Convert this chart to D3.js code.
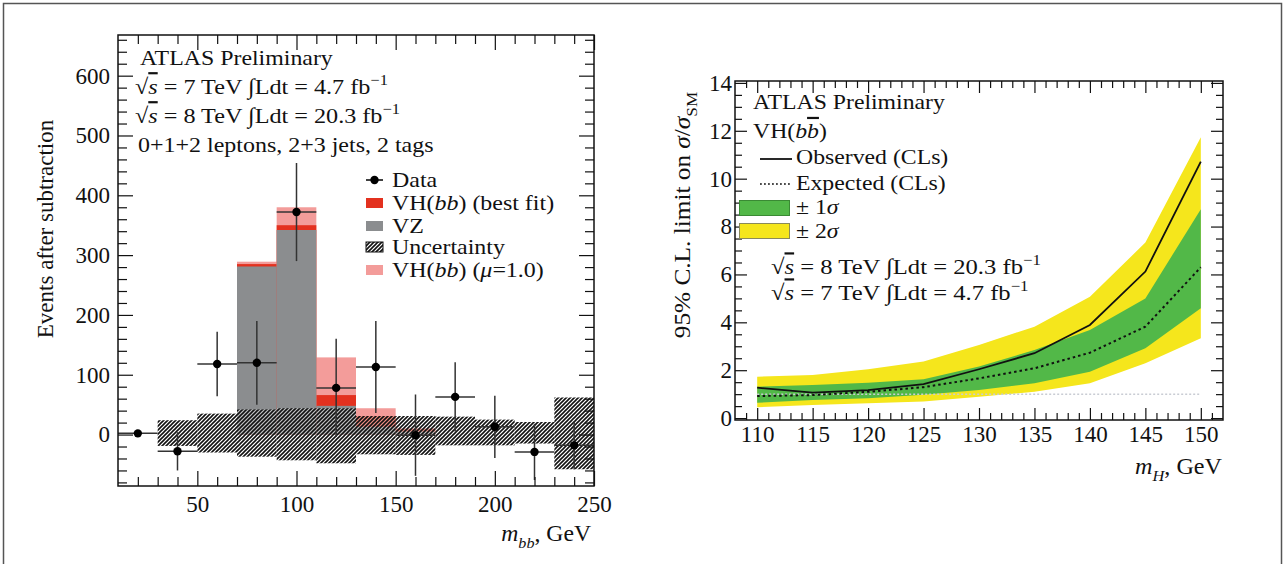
<!DOCTYPE html>
<html lang="en">
<head>
<meta charset="UTF-8" />
<title>ATLAS VH(bb) results</title>
<style>
  body { margin: 0; background: #fff; }
  svg { display: block; font-family: "Liberation Serif", "Times New Roman", serif; }
  .tick text { font-family: "Liberation Serif", "Times New Roman", serif; font-size: 23px; fill: #111; }
  .tick line { stroke: #111; stroke-width: 1.2px; }
</style>
<script src="https://d3js.org/d3.v7.min.js"></script>
</head>
<body>
<svg id="fig"></svg>
<script>
// ---- left panel: m_bb after background subtraction ----
const binCenters = [20, 40, 60, 80, 100, 120, 140, 160, 180, 200, 220, 240];
const dataValues = [2, -28, 118, 120, 372, 78, 113, -1, 63, 13, -29, -18];
const dataErrors = [5, 32, 54, 70, 82, 82, 77, 68, 58, 52, 47, 40];
const vzValues = [0, 0, 0, 281, 342, 48, 13, 5, 0, 0, 0, 0];
const vhBestFit = [0, 0, 0, 4, 8, 18, 18, 4, 0, 0, 0, 0];
const vhMuOne = [0, 0, 0, 8, 38, 81, 31, 6, 0, 0, 0, 0];
const uncUp = [0, 24, 35, 42, 44, 44, 31, 31, 30, 25, 21, 62];
const uncDown = [0, -19, -30, -37, -43, -48, -33, -34, -18, -18, -15, -58];
const binWidth = 20;
const leftXTicks = [50, 100, 150, 200, 250];
const leftYTicks = [0, 100, 200, 300, 400, 500, 600];

// ---- right panel: 95% CL limits vs m_H ----
const massPoints = [110, 115, 120, 125, 130, 135, 140, 145, 150];
const observed = [1.27, 1.06, 1.17, 1.42, 2.04, 2.71, 3.89, 6.12, 10.71];
const expected = [0.92, 0.96, 1.10, 1.29, 1.66, 2.08, 2.73, 3.82, 6.30];
const oneSigUp = [1.31, 1.38, 1.48, 1.62, 2.15, 2.84, 3.68, 5.00, 8.72];
const oneSigDown = [0.64, 0.76, 0.83, 0.97, 1.17, 1.45, 1.94, 2.92, 4.59];
const twoSigUp = [1.73, 1.80, 2.04, 2.36, 3.05, 3.82, 5.07, 7.33, 11.73];
const twoSigDown = [0.45, 0.55, 0.62, 0.69, 0.89, 1.10, 1.45, 2.29, 3.33];
const rightXTicks = [110, 115, 120, 125, 130, 135, 140, 145, 150];
const rightYTicks = [0, 2, 4, 6, 8, 10, 12, 14];

const W = 1288, H = 564;
const svg = d3.select("#fig").attr("width", W).attr("height", H);

svg.append("rect").attr("x", 3.5).attr("y", 3.5).attr("width", 1278).attr("height", 580)
  .attr("fill", "none").attr("stroke", "#555").attr("stroke-width", 1.5);

const defs = svg.append("defs");
const hatch = defs.append("pattern").attr("id", "hatch")
  .attr("patternUnits", "userSpaceOnUse").attr("width", 4).attr("height", 4);
hatch.append("rect").attr("width", 4).attr("height", 4).attr("fill", "#fff").attr("fill-opacity", 0.45);
hatch.append("path").attr("d", "M-1,1 l2,-2 M0,4 l4,-4 M3,5 l2,-2")
  .attr("stroke", "#111").attr("stroke-width", 1.6);

// rich text: segments {t, it, sup, sub, over}; sx widens the glyphs like the scan
function rich(g, x, y, segs, size, anchor, sx, rot) {
  const holder = g.append("g")
    .attr("transform", `translate(${x},${y})${rot ? " rotate(" + rot + ")" : ""} scale(${sx || 1},1)`);
  const text = holder.append("text").attr("font-size", size).attr("fill", "#111")
    .attr("text-anchor", anchor || "start");
  let shift = 0;
  segs.forEach(s => {
    const target = s.sup ? -0.42 * size : s.sub ? 0.3 * size : 0;
    const ts = text.append("tspan").text(s.t).attr("dy", target - shift);
    shift = target;
    if (s.it) ts.attr("font-style", "italic");
    if (s.sup || s.sub) ts.attr("font-size", size * 0.68);
    if (s.over) ts.style("text-decoration", "overline");
  });
  return text;
}
const lumi = (e, l) => [
  { t: "√" }, { t: "s", it: true, over: true }, { t: ` = ${e} TeV ∫Ldt = ${l} fb` }, { t: "−1", sup: true }
];

function frame(g, x, y, xMajor, xMinor, yMajor, yMinor, majLen, minLen, xPad, yPad) {
  const [x0, x1] = x.range(), [y0, y1] = y.range();
  const clean = a => a.call(s => s.select(".domain").remove());
  g.append("g").attr("transform", `translate(0,${y0})`)
    .call(d3.axisBottom(x).tickValues(xMajor).tickSize(-majLen).tickSizeOuter(0).tickPadding(xPad)).call(clean);
  g.append("g").attr("transform", `translate(0,${y0})`)
    .call(d3.axisBottom(x).tickValues(xMinor).tickSize(-minLen).tickFormat("")).call(clean);
  g.append("g").attr("transform", `translate(0,${y1})`)
    .call(d3.axisTop(x).tickValues(xMajor).tickSize(-majLen).tickFormat("")).call(clean);
  g.append("g").attr("transform", `translate(0,${y1})`)
    .call(d3.axisTop(x).tickValues(xMinor).tickSize(-minLen).tickFormat("")).call(clean);
  g.append("g").attr("transform", `translate(${x0},0)`)
    .call(d3.axisLeft(y).tickValues(yMajor).tickSize(-majLen).tickSizeOuter(0).tickPadding(yPad)).call(clean);
  g.append("g").attr("transform", `translate(${x0},0)`)
    .call(d3.axisLeft(y).tickValues(yMinor).tickSize(-minLen).tickFormat("")).call(clean);
  g.append("g").attr("transform", `translate(${x1},0)`)
    .call(d3.axisRight(y).tickValues(yMajor).tickSize(-majLen).tickFormat("")).call(clean);
  g.append("g").attr("transform", `translate(${x1},0)`)
    .call(d3.axisRight(y).tickValues(yMinor).tickSize(-minLen).tickFormat("")).call(clean);
  g.append("rect").attr("x", x0).attr("y", y1).attr("width", x1 - x0).attr("height", y0 - y1)
    .attr("fill", "none").attr("stroke", "#111").attr("stroke-width", 1.5);
}

// ================= left panel =================
const xL = d3.scaleLinear().domain([10, 250]).range([118, 594]);
const yL = d3.scaleLinear().domain([-86, 668]).range([486, 35]);
const gL = svg.append("g");
defs.append("clipPath").attr("id", "clipL").append("rect")
  .attr("x", 118).attr("y", 35).attr("width", 476).attr("height", 451);
const plotL = gL.append("g").attr("clip-path", "url(#clipL)");

const bins = binCenters.map((c, i) => ({
  c, vz: vzValues[i], fit: vzValues[i] + vhBestFit[i], mu1: vzValues[i] + vhMuOne[i],
  up: uncUp[i], dn: uncDown[i], d: dataValues[i], e: dataErrors[i]
}));
function bars(key, color) {
  plotL.selectAll(null).data(bins.filter(b => b[key] > 0)).join("rect")
    .attr("x", b => xL(b.c - binWidth / 2)).attr("width", b => xL(b.c + binWidth / 2) - xL(b.c - binWidth / 2))
    .attr("y", b => yL(b[key])).attr("height", b => yL(0) - yL(b[key])).attr("fill", color);
}
bars("mu1", "#f39c9a");
bars("fit", "#e3311f");
bars("vz", "#8b8d8f");
plotL.selectAll(null).data(bins.filter(b => b.up !== b.dn)).join("rect")
  .attr("x", b => xL(b.c - binWidth / 2)).attr("width", b => xL(b.c + binWidth / 2) - xL(b.c - binWidth / 2))
  .attr("y", b => yL(b.up)).attr("height", b => yL(b.dn) - yL(b.up)).attr("fill", "url(#hatch)");

const pts = plotL.append("g");
pts.selectAll(null).data(bins).join("line")
  .attr("x1", b => xL(b.c - binWidth / 2)).attr("x2", b => xL(b.c + binWidth / 2))
  .attr("y1", b => yL(b.d)).attr("y2", b => yL(b.d)).attr("stroke", "#333").attr("stroke-width", 1.5);
pts.selectAll(null).data(bins).join("line")
  .attr("x1", b => xL(b.c)).attr("x2", b => xL(b.c))
  .attr("y1", b => yL(b.d - b.e)).attr("y2", b => yL(b.d + b.e)).attr("stroke", "#333").attr("stroke-width", 1.5);
pts.selectAll(null).data(bins).join("circle")
  .attr("cx", b => xL(b.c)).attr("cy", b => yL(b.d)).attr("r", 4.2).attr("fill", "#000");

frame(gL, xL, yL, leftXTicks, d3.range(20, 250, 10).filter(v => v % 50),
  leftYTicks, d3.range(-80, 668, 20).filter(v => v % 100), 15, 9, 10, 8);

rich(gL, 140, 65, [{ t: "ATLAS Preliminary" }], 22, "start", 1.085);
rich(gL, 135, 94, lumi(7, "4.7"), 22, "start", 1.1);
rich(gL, 135, 123, lumi(8, "20.3"), 22, "start", 1.1);
rich(gL, 138, 152, [{ t: "0+1+2 leptons, 2+3 jets, 2 tags" }], 22, "start", 1.09);

// left legend
const legL = gL.append("g");
const legRows = [180, 203, 226, 247, 270];
legL.append("line").attr("x1", 366).attr("x2", 383).attr("y1", legRows[0]).attr("y2", legRows[0])
  .attr("stroke", "#000").attr("stroke-width", 1.5);
legL.append("circle").attr("cx", 374.5).attr("cy", legRows[0]).attr("r", 4.2).attr("fill", "#000");
[["#e3311f", 1], ["#8b8d8f", 2], ["url(#hatch)", 3], ["#f39c9a", 4]].forEach(([c, i]) => {
  legL.append("rect").attr("x", 366).attr("y", legRows[i] - 5).attr("width", 17).attr("height", 10)
    .attr("fill", c).attr("stroke", i === 3 ? "#111" : "none").attr("stroke-width", 1);
});
const legTexts = [
  [{ t: "Data" }],
  [{ t: "VH(" }, { t: "bb", it: true }, { t: ") (best fit)" }],
  [{ t: "VZ" }],
  [{ t: "Uncertainty" }],
  [{ t: "VH(" }, { t: "bb", it: true }, { t: ") (" }, { t: "μ", it: true }, { t: "=1.0)" }]
];
legTexts.forEach((s, i) => rich(legL, 392, legRows[i] + 7, s, 21, "start", 1.14));

rich(gL, 53, 229, [{ t: "Events after subtraction" }], 23, "middle", 1.0, -90);
rich(gL, 591, 541, [{ t: "m", it: true }, { t: "bb", it: true, sub: true }, { t: ", GeV" }], 23, "end", 1.03);

// ================= right panel =================
const xR = d3.scaleLinear().domain([108, 152]).range([735, 1223]);
const yR = d3.scaleLinear().domain([-0.08, 14.08]).range([420, 81]);
const gR = svg.append("g");
const lim = massPoints.map((m, i) => ({
  m, obs: observed[i], exp: expected[i], g1: oneSigDown[i], g2: oneSigUp[i], y1: twoSigDown[i], y2: twoSigUp[i]
}));
gR.append("path").datum(lim).attr("fill", "#f5e61c")
  .attr("d", d3.area().x(d => xR(d.m)).y0(d => yR(d.y1)).y1(d => yR(d.y2)));
gR.append("path").datum(lim).attr("fill", "#52b848")
  .attr("d", d3.area().x(d => xR(d.m)).y0(d => yR(d.g1)).y1(d => yR(d.g2)));
gR.append("line").attr("x1", xR(110)).attr("x2", xR(150)).attr("y1", yR(1)).attr("y2", yR(1))
  .attr("stroke", "#c9ccd4").attr("stroke-width", 1.5).attr("stroke-dasharray", "2,2");
gR.append("path").datum(lim).attr("fill", "none").attr("stroke", "#111").attr("stroke-width", 2)
  .attr("stroke-dasharray", "2.5,3").attr("d", d3.line().x(d => xR(d.m)).y(d => yR(d.exp)));
gR.append("path").datum(lim).attr("fill", "none").attr("stroke", "#111").attr("stroke-width", 1.8)
  .attr("d", d3.line().x(d => xR(d.m)).y(d => yR(d.obs)));

frame(gR, xR, yR, rightXTicks, d3.range(109, 152, 1).filter(v => v % 5),
  rightYTicks, d3.range(0.5, 14, 0.5).filter(v => v % 2), 12, 7, 6, 3);

rich(gR, 753, 109, [{ t: "ATLAS Preliminary" }], 22, "start", 1.08);
rich(gR, 753, 138, [{ t: "VH(" }, { t: "b", it: true }, { t: "b", it: true, over: true }, { t: ")" }], 22, "start", 1.08);
gR.append("line").attr("x1", 760).attr("x2", 792).attr("y1", 159).attr("y2", 159)
  .attr("stroke", "#111").attr("stroke-width", 1.8);
gR.append("line").attr("x1", 760).attr("x2", 792).attr("y1", 184).attr("y2", 184)
  .attr("stroke", "#111").attr("stroke-width", 1.5).attr("stroke-dasharray", "1.8,2.2");
gR.append("rect").attr("x", 739.5).attr("y", 200.5).attr("width", 50).attr("height", 15)
  .attr("fill", "#52b848").attr("stroke", "#3a8a34").attr("stroke-width", 1);
gR.append("rect").attr("x", 739.5).attr("y", 223.5).attr("width", 50).attr("height", 15)
  .attr("fill", "#f5e61c").attr("stroke", "#8a8a5a").attr("stroke-width", 1);
rich(gR, 796, 164, [{ t: "Observed (CLs)" }], 22, "start", 1.08);
rich(gR, 796, 190, [{ t: "Expected (CLs)" }], 22, "start", 1.08);
rich(gR, 796, 214, [{ t: "± 1" }, { t: "σ", it: true }], 22, "start", 1.08);
rich(gR, 796, 238, [{ t: "± 2" }, { t: "σ", it: true }], 22, "start", 1.08);
rich(gR, 771, 274, lumi(8, "20.3"), 22, "start", 1.12);
rich(gR, 771, 300, lumi(7, "4.7"), 22, "start", 1.12);

rich(gR, 690, 215, [{ t: "95% C.L. limit on " }, { t: "σ", it: true }, { t: "/" }, { t: "σ", it: true }, { t: "SM", sub: true }],
  23, "middle", 1.1, -90);
rich(gR, 1222, 474, [{ t: "m", it: true }, { t: "H", it: true, sub: true }, { t: ", GeV" }], 23, "end", 1.05);
</script>
</body>
</html>
